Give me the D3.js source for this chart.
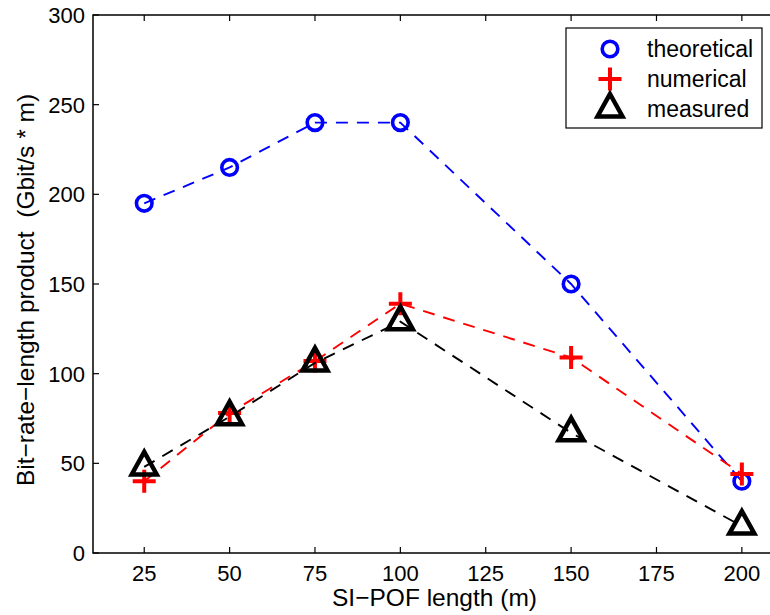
<!DOCTYPE html>
<html>
<head>
<meta charset="utf-8">
<script src="https://cdn.jsdelivr.net/npm/d3@7"></script>
<style>
  html, body { margin: 0; padding: 0; background: #fff; }
  svg { display: block; }
  text { font-family: "Liberation Sans", Arial, Helvetica, sans-serif; fill: #000; }
</style>
</head>
<body>
<svg id="chart" width="770" height="615"></svg>
<script>
// Fibre lengths (m)
const lengths = [25, 50, 75, 100, 150, 200];
// Bit-rate-length product (Gbit/s * m)
const theoretical = [195, 215, 240, 240, 150, 40];
const numerical   = [40, 78, 107, 139, 109, 44];
const measured    = [48, 76, 106, 129, 67, 15];

const xTicks = [25, 50, 75, 100, 125, 150, 175, 200];
const yTicks = [0, 50, 100, 150, 200, 250, 300];
const seriesNames = ["theoretical", "numerical", "measured"];

const svg = d3.select("#chart");
const plotLeft = 93, plotTop = 15, plotBottom = 553, plotRight = 776;

const x = d3.scaleLinear().domain([10, 210]).range([plotLeft, plotRight]);
const y = d3.scaleLinear().domain([0, 300]).range([plotBottom, plotTop]);

const tickFont = 22, labelFont = 24.5, legendFont = 23;

// axis box
const g = svg.append("g");
g.append("rect")
  .attr("x", plotLeft).attr("y", plotTop)
  .attr("width", plotRight - plotLeft).attr("height", plotBottom - plotTop)
  .attr("fill", "none").attr("stroke", "#000").attr("stroke-width", 1.5);

// inward ticks along bottom and top
xTicks.forEach(t => {
  g.append("line").attr("x1", x(t)).attr("x2", x(t))
    .attr("y1", plotBottom).attr("y2", plotBottom - 6).attr("stroke", "#000").attr("stroke-width", 1.2);
  g.append("line").attr("x1", x(t)).attr("x2", x(t))
    .attr("y1", plotTop).attr("y2", plotTop + 6).attr("stroke", "#000").attr("stroke-width", 1.2);
  g.append("text").attr("x", x(t)).attr("y", 581)
    .attr("text-anchor", "middle").attr("font-size", tickFont).text(t);
});
yTicks.forEach(t => {
  g.append("line").attr("x1", plotLeft).attr("x2", plotLeft + 6)
    .attr("y1", y(t)).attr("y2", y(t)).attr("stroke", "#000").attr("stroke-width", 1.2);
  g.append("text").attr("x", plotLeft - 8).attr("y", y(t) + 8)
    .attr("text-anchor", "end").attr("font-size", tickFont).text(t);
});

// axis titles
svg.append("text").attr("x", (plotLeft + plotRight) / 2).attr("y", 606)
  .attr("text-anchor", "middle").attr("font-size", labelFont)
  .text("SI\u2212POF length (m)");
svg.append("text")
  .attr("transform", "translate(34, 290) rotate(-90)")
  .attr("text-anchor", "middle").attr("font-size", labelFont)
  .style("white-space", "pre")
  .text("Bit\u2212rate\u2212length product  (Gbit/s * m)");

// marker drawers
function drawCircle(sel, cx, cy) {
  sel.append("circle").attr("cx", cx).attr("cy", cy).attr("r", 7.8)
    .attr("fill", "none").attr("stroke", "#0000ff").attr("stroke-width", 3.6);
}
function drawPlus(sel, cx, cy) {
  const h = 11.5;
  sel.append("path")
    .attr("d", `M${cx - h},${cy}H${cx + h}M${cx},${cy - h}V${cy + h}`)
    .attr("stroke", "#ff0000").attr("stroke-width", 4).attr("fill", "none");
}
function drawTriangle(sel, cx, cy) {
  const w = 12.5, up = 15, dn = 7.5;
  sel.append("path")
    .attr("d", `M${cx},${cy - up}L${cx + w},${cy + dn}L${cx - w},${cy + dn}Z`)
    .attr("stroke", "#000").attr("stroke-width", 4.5).attr("fill", "none")
    .attr("stroke-linejoin", "miter");
}

const series = [
  { name: seriesNames[0], values: theoretical, color: "#0000ff", marker: drawCircle },
  { name: seriesNames[1], values: numerical,   color: "#ff0000", marker: drawPlus },
  { name: seriesNames[2], values: measured,    color: "#000000", marker: drawTriangle }
];

const line = d3.line().x(d => x(d[0])).y(d => y(d[1]));

series.forEach(s => {
  const pts = lengths.map((l, i) => [l, s.values[i]]);
  const sg = svg.append("g");
  sg.append("path").attr("d", line(pts))
    .attr("fill", "none").attr("stroke", s.color)
    .attr("stroke-width", 1.9).attr("stroke-dasharray", "12,9");
  pts.forEach(p => s.marker(sg, x(p[0]), y(p[1])));
});

// legend
const lg = svg.append("g");
lg.append("rect").attr("x", 566).attr("y", 28).attr("width", 196).attr("height", 100)
  .attr("fill", "#fff").attr("stroke", "#000").attr("stroke-width", 1.2);
series.forEach((s, i) => {
  const cy = 49 + i * 30;
  s.marker(lg, 610, cy);
  lg.append("text").attr("x", 647).attr("y", cy + 8)
    .attr("font-size", legendFont).text(s.name);
});
</script>
</body>
</html>
